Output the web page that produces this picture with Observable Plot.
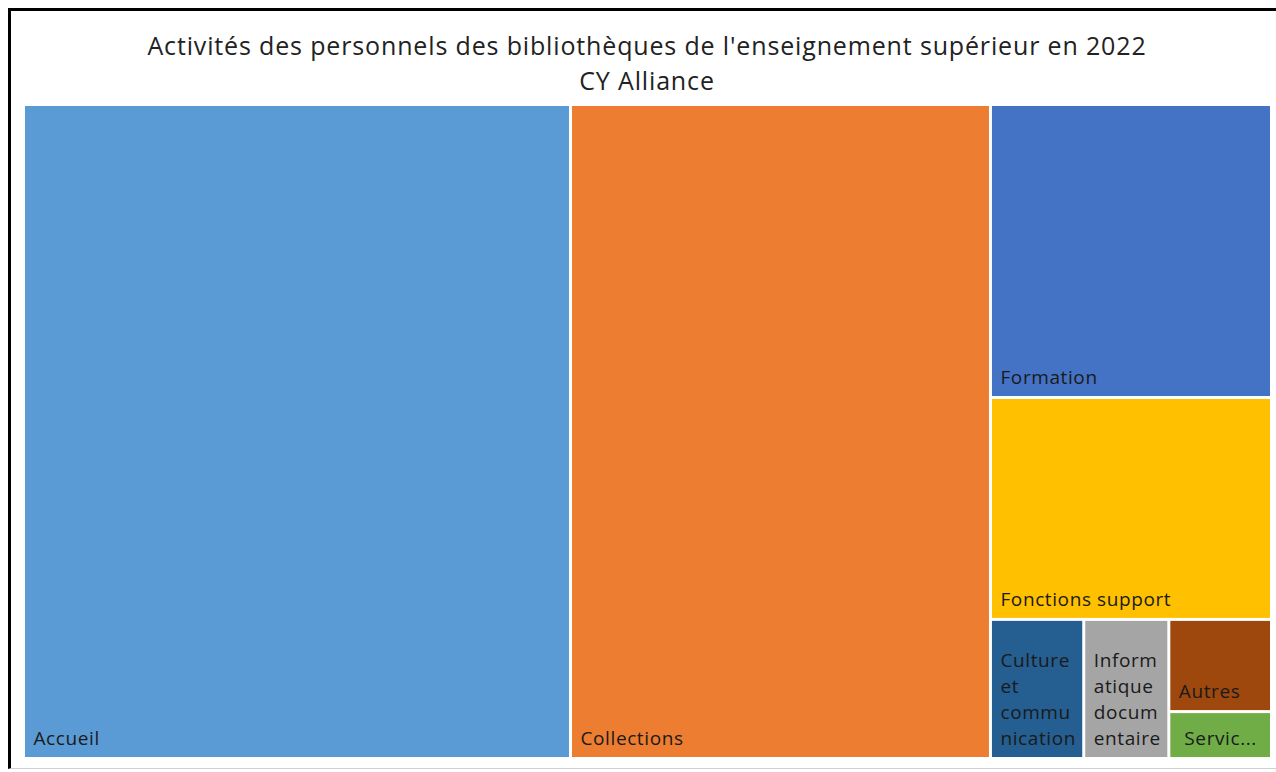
<!DOCTYPE html>
<html>
<head>
<meta charset="utf-8">
<script src="https://cdn.jsdelivr.net/npm/d3@7"></script>
<script src="https://cdn.jsdelivr.net/npm/@observablehq/plot@0.6"></script>
<style>
  html, body { margin: 0; padding: 0; background: #fff; }
  body { width: 1276px; height: 772px; position: relative; overflow: hidden; font-family: "Open Sans", sans-serif; }
  #frame { position: absolute; left: 8px; top: 8px; width: 1300px; height: 761px; border-left: 3px solid #000; border-top: 3px solid #000; border-bottom: 1px solid #d0d0d0; box-sizing: border-box; }
  #title { position: absolute; left: 0; top: 28px; width: 1294px; text-align: center; font-size: 25px; letter-spacing: 0.85px; line-height: 35px; color: #222; }
  #chart { position: absolute; left: 0; top: 100px; }
  #chart text { letter-spacing: 0.6px; }
</style>
</head>
<body>
<div id="frame"></div>
<div id="title">Activités des personnels des bibliothèques de l'enseignement supérieur en 2022<br>CY Alliance</div>
<div id="chart"></div>
<script>
// Data (share of activity, %)
const categories = ["Accueil", "Collections", "Formation", "Fonctions support", "Culture et communication", "Informatique documentaire", "Autres", "Services"];
const values = [43.83, 33.65, 10.09, 7.64, 1.59, 1.45, 1.16, 0.59];
const labels = ["Accueil", "Collections", "Formation", "Fonctions support", "Culture\net\ncommu\nnication", "Inform\natique\ndocum\nentaire", "Autres", "Servic..."];
const colors = ["#5B9BD5", "#ED7D31", "#4472C4", "#FFC000", "#255E91", "#A5A5A5", "#9E480E", "#70AD47"];

const W = 1248, H = 654;
const root = d3.hierarchy({children: categories.map((c, i) => ({name: c, value: values[i], label: labels[i]}))})
  .sum(d => d.value || 0)
  .sort((a, b) => b.value - a.value);
d3.treemap().size([W, H]).tile(d3.treemapSquarify.ratio(1)).round(false)(root);
const leaves = root.leaves().map(l => ({name: l.data.name, label: l.data.label, x0: l.x0, x1: l.x1, y0: l.y0, y1: l.y1}));
const fits = leaves.filter(d => !d.label.endsWith("..."));
const truncated = leaves.filter(d => d.label.endsWith("..."));

const chart = Plot.plot({
  width: 1276,
  height: 660,
  marginTop: 4.5,
  marginBottom: 1.5,
  marginLeft: 23.5,
  marginRight: 4.5,
  x: {domain: [0, W], axis: null},
  y: {domain: [0, H], reverse: true, axis: null},
  color: {domain: categories, range: colors},
  style: {fontFamily: "'Open Sans', sans-serif"},
  marks: [
    Plot.rect(leaves, {x1: "x0", x2: "x1", y1: "y0", y2: "y1", fill: "name", inset: 1.5}),
    Plot.text(fits, {x: "x0", y: "y1", text: "label", textAnchor: "start", lineAnchor: "bottom", dx: 9.5, dy: -14, fontSize: 19, lineHeight: 1.37, fill: "#1a1a1a"}),
    Plot.text(truncated, {x: d => (d.x0 + d.x1) / 2, y: "y1", text: "label", textAnchor: "middle", lineAnchor: "bottom", dy: -14, fontSize: 19, fill: "#1a1a1a"})
  ]
});
document.getElementById("chart").appendChild(chart);
</script>
</body>
</html>
